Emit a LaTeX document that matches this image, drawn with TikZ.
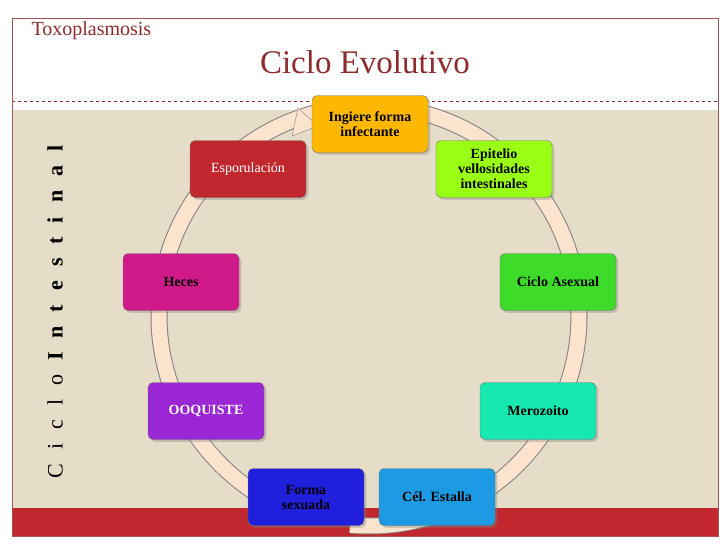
\documentclass[tikz,border=0pt]{standalone}
\usepackage{fontspec}
\setmainfont{Liberation Serif}
\usetikzlibrary{positioning,shadows}
\definecolor{titlered}{HTML}{8E2B2B}
\definecolor{bandred}{HTML}{C0282D}
\definecolor{beige}{HTML}{E6DDC8}
\definecolor{ringfill}{HTML}{FCE3CE}
\newcommand{\lgap}{\hspace{14pt}}
\tikzset{
  stage/.style={draw=black!55, rounded corners=5pt, minimum width=116pt, minimum height=57pt,
    align=center, font=\fontsize{14}{15}\selectfont\bfseries, drop shadow={opacity=0.35}},
}
\begin{document}
\begin{tikzpicture}[x=1pt,y=-1pt]
        % Background and frame
        \useasboundingbox (0,0) rectangle (728,546);
        \fill[white] (0,0) rectangle (728,546);
        \fill[beige] (12,110) rectangle (718,508);
        \fill[bandred] (12,508) rectangle (718,536);
        \draw[titlered, dashed] (12,101) -- (718,101);
        \draw[titlered!80] (12,18) rectangle (718,536);

        % Titles
        \node[text=titlered, font=\fontsize{20}{22}\selectfont, anchor=west] (topic) at (28,31) {Toxoplasmosis};
        \node[text=titlered, font=\fontsize{33}{35}\selectfont] (title) at (365,62) {Ciclo Evolutivo};

        % Side label
        \node[rotate=90, font=\fontsize{22}{24}\selectfont] (side) at (55,312)
          {C\lgap i\lgap c\lgap l\lgap o\lgap \textbf{I\lgap n\lgap t\lgap e\lgap s\lgap t\lgap i\lgap n\lgap a\lgap l}};

        % Cycle ring
        \draw[black!50, line width=17pt] (369,316) ++(95:210) arc (95:-250:210);
        \draw[ringfill, line width=15pt] (369,316) ++(95.2:210) arc (95.2:-250.2:210);
        \filldraw[fill=ringfill, draw=black!50] (298,108) -- (318,126) -- (292,136) -- cycle;

        % Stages
        \node[stage, fill={rgb,255:red,255;green,183;blue,0}] (ingest) at (370,124) {Ingiere forma\\infectante};
        \node[stage, fill={rgb,255:red,153;green,255;blue,20}] (epit) at (494,169) {Epitelio\\vellosidades\\intestinales};
        \node[stage, fill={rgb,255:red,62;green,219;blue,42}] (asex) at (558,282) {Ciclo Asexual};
        \node[stage, fill={rgb,255:red,22;green,232;blue,176}] (mero) at (538,411) {Merozoito};
        \node[stage, fill={rgb,255:red,28;green,155;blue,228}] (estalla) at (437,497) {Cél. Estalla};
        \node[stage, fill={rgb,255:red,32;green,32;blue,220}] (sexual) at (306,497) {Forma\\sexuada};
        \node[stage, fill={rgb,255:red,155;green,39;blue,212}, text=white] (ooq) at (206,411) {OOQUISTE};
        \node[stage, fill={rgb,255:red,208;green,26;blue,138}] (heces) at (181,282) {Heces};
        \node[stage, fill=bandred, text=white, font=\fontsize{14}{15}\selectfont] (espor) at (248,169) {Esporulación};
\end{tikzpicture}
\end{document}
